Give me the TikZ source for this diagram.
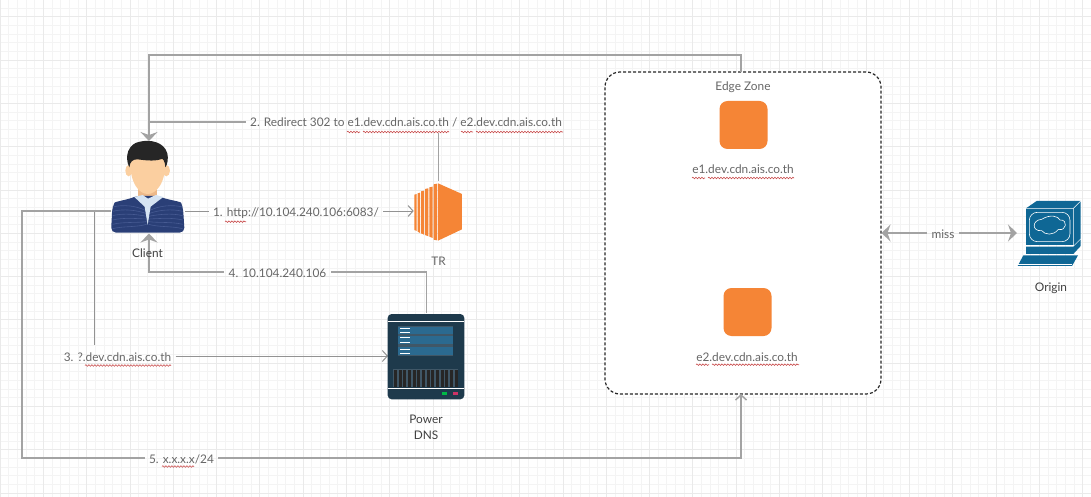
\documentclass[tikz,border=0pt]{standalone}
\usepackage{fontspec}
\setmainfont{Lato}
\usetikzlibrary{arrows.meta,decorations.pathmorphing}
\definecolor{gridminor}{HTML}{F4F4F4}
\definecolor{gridmajor}{HTML}{EAEAEA}
\definecolor{wiregray}{HTML}{A3A3A3}
\definecolor{textgray}{HTML}{666666}
\definecolor{iconorange}{HTML}{F58536}
\definecolor{dnsdark}{HTML}{1E3A4C}
\definecolor{dnsblue}{HTML}{2B6A90}
\definecolor{pcblue}{HTML}{0F6795}
\definecolor{suitblue}{HTML}{2A3F77}
\definecolor{suitline}{HTML}{465A92}
\definecolor{shirtblue}{HTML}{D6E4F3}
\definecolor{skin}{HTML}{FBCFA0}
\definecolor{skindark}{HTML}{EDB98A}
\tikzset{
  iconbox/.style={minimum width=#1,inner sep=0pt,outer sep=0pt},
  wire/.style={draw=wiregray,line width=1.5pt},
  wirethin/.style={draw=wiregray!90!black,line width=1pt},
  solidtip/.tip={Stealth[length=9pt,width=17pt,inset=3pt]},
  opentip/.tip={Straight Barb[length=5pt,width=11pt]},
  lbl/.style={font=\fontsize{11.85}{14}\selectfont,text=textgray,text height=12pt,text depth=2pt,inner xsep=4.5pt,inner ysep=4pt,outer sep=0pt},
  caption/.style={font=\fontsize{11.85}{16}\selectfont,text=black!75,align=center,inner sep=0pt},
  squig/.style={draw=red!70!black!70,line width=0.6pt,decorate,decoration={snake,amplitude=0.8pt,segment length=3pt}},
  tile/.style={fill=iconorange,draw=none,rounded corners=8pt}
}
\begin{document}
\begin{tikzpicture}[x=1pt,y=-1pt]
  \useasboundingbox (0,0) rectangle (1091,497);
  \foreach \i in {0,...,126}{\draw[gridminor,line width=0.7pt] ({8.66*\i},0) -- ({8.66*\i},497);} % vertical grid
  \foreach \i in {0,...,57}{\draw[gridminor,line width=0.7pt] (0,{8.66*\i-0.6}) -- (1091,{8.66*\i-0.6});} % horizontal grid
  \foreach \i in {0,...,25}{\draw[gridmajor,line width=0.8pt] ({43.3*\i},0) -- ({43.3*\i},497);} % heavy vertical grid
  \foreach \i in {0,...,11}{\draw[gridmajor,line width=0.8pt] (0,{43.3*\i+16.7}) -- (1091,{43.3*\i+16.7});} % heavy horizontal grid

  \node[iconbox=276pt,minimum height=322pt,fill=white,draw=black!85,line width=1.2pt,dash pattern=on 3pt off 2pt,rounded corners=15pt] (edge) at (743,233) {}; % edge zone
  \node[iconbox=74pt,minimum height=92pt] (client) at (148,187) {}; % client box
  \node[iconbox=50pt,minimum height=60pt] (tr) at (438.7,211) {}; % TR box
  \node[iconbox=77pt,minimum height=86pt] (dns) at (426.5,356) {}; % DNS box
  \node[iconbox=64pt,minimum height=66pt] (origin) at (1050,233) {}; % origin box
  \coordinate (edgein) at (741,72);
  \coordinate (edgeout) at (741,394);
  \coordinate (clienttop) at (149,141);
  \coordinate (clientbot) at (149,233.5);
  \coordinate (topturn) at (149,55);
  \coordinate (redirturn) at (149,122);
  \coordinate (dnsturn) at (94,356);
  \coordinate (xturn) at (22,458);
  \coordinate (missl) at (881.5,233);
  \coordinate (missr) at (1017,233);

  \node[lbl] (step1) at (296,211) {1. http://10.104.240.106:6083/};
  \node[lbl] (step2) at (406,122) {2. Redirect 302 to e1.dev.cdn.ais.co.th / e2.dev.cdn.ais.co.th};
  \node[lbl] (step3) at (117.5,356) {3. ?.dev.cdn.ais.co.th};
  \node[lbl] (step4) at (277.5,272) {4. 10.104.240.106};
  \node[lbl] (step5) at (181.5,458) {5. x.x.x.x/24};
  \node[lbl] (miss) at (943,233) {miss};

  \draw[wire,-solidtip] (edgein) |- (topturn) -- (clienttop); % top return
  \draw[wire] (tr.north) -- (tr.north |- step2.south); % step 2 riser
  \draw[wire] (step2.west) -- (redirturn); % step 2
  \draw[wirethin] (client.east |- tr.west) -- (step1.west); % step 1
  \draw[wirethin,-opentip] (step1.east) -- (tr.west); % step 1
  \draw[wirethin] (client.west |- tr.west) -| (dnsturn |- step3.north); % step 3
  \draw[wirethin,-opentip] (step3.east) -- (dns.west); % step 3
  \draw[wire] (dns.north) |- (step4.east); % step 4
  \draw[wire,-solidtip] (step4.west) -| (clientbot); % step 4
  \draw[wire] (client.west |- tr.west) -| (xturn) -- (step5.west); % step 5
  \draw[wire,-opentip] (step5.east) -| (edgeout); % step 5
  \draw[wire,solidtip-] (missl) -- (miss.west); % miss
  \draw[wire,-solidtip] (miss.east) -- (missr); % miss

  \draw[squig] (225,221.7) -- (246,221.7); % http
  \draw[squig] (347,132) -- (360,132);
  \draw[squig] (363,132) -- (449,132);
  \draw[squig] (461,132) -- (473,132);
  \draw[squig] (476,132) -- (563,132);
  \draw[squig] (85,365.5) -- (171,365.5);
  \draw[squig] (162,466.5) -- (194,466.5);
  \draw[squig] (692,178) -- (705,178);
  \draw[squig] (708,178) -- (794,178);
  \draw[squig] (696,364.7) -- (709,364.7);
  \draw[squig] (712,364.7) -- (799,364.7);

  \node[caption,text=textgray] (edgelbl) at (743,87) {Edge Zone};
  \node[tile,minimum width=48pt,minimum height=48pt,inner sep=0pt] (e1) at (743.5,125) {};
  \node[lbl] (e1lbl) at (743,169) {e1.dev.cdn.ais.co.th};
  \node[tile,minimum width=48pt,minimum height=48pt,inner sep=0pt] (e2) at (747.5,312) {};
  \node[lbl] (e2lbl) at (747,356) {e2.dev.cdn.ais.co.th};
  \node[caption] (clientlbl) at (147.5,253) {Client};
  \node[caption,text=textgray] (trlbl) at (438.5,261) {TR};
  \node[caption] (dnslbl) at (426,427) {Power\\DNS};
  \node[caption] (originlbl) at (1051,288) {Origin};

  \begin{scope}[shift={(0,100)},x=0.3333pt,y=-0.3333pt] % client figure
    \fill[skin] (386,212) ellipse (10 and 17); % left ear
    \fill[skin] (499,212) ellipse (11 and 17); % right ear
    \fill[skindark] (415,255) rectangle (470,300); % neck
    \fill[suitblue,rounded corners=5pt] (333,398) -- (337,322) .. controls (345,305) and (385,298) .. (408,288) -- (478,288) .. controls (500,298) and (542,305) .. (549,322) -- (554,398) -- cycle; % jacket
    \foreach \r in {1,...,6}{
      \draw[suitline,line width=0.6pt] (338,{308+\r*13}) .. controls (370,{300+\r*13}) and (410,{304+\r*13}) .. (440,{325+\r*8});
      \draw[suitline,line width=0.6pt] (548,{308+\r*13}) .. controls (516,{300+\r*13}) and (476,{304+\r*13}) .. (446,{325+\r*8});
    }
    \fill[shirtblue] (403,291) -- (428,285) -- (444,296) -- (468,285) -- (490,291) -- (452,320) -- (443,375) -- (434,320) -- cycle; % shirt
    \fill[skin] (390,180) .. controls (390,255) and (420,282) .. (443,282) .. controls (466,282) and (497,255) .. (497,180) .. controls (497,140) and (390,140) .. cycle; % face
    \fill[black!85] (388,202) .. controls (372,170) and (385,130) .. (420,125) .. controls (450,118) and (492,125) .. (502,160) .. controls (506,175) and (502,195) .. (496,202) .. controls (496,185) and (488,172) .. (482,178) .. controls (460,185) and (430,180) .. (412,178) .. controls (398,178) and (390,185) .. cycle; % hair
  \end{scope}

  \begin{scope}[shift={(370,170)},x=0.3333pt,y=-0.3333pt] % TR icon
    \fill[iconorange] (204,40) -- (276,72) -- (276,178) -- (204,212) -- cycle;
    \fill[iconorange] (191,43) -- (201,41) -- (201,211) -- (191,209) -- cycle;
    \fill[iconorange] (178,52) -- (188,50) -- (188,204) -- (178,200) -- cycle;
    \fill[iconorange] (165,57) -- (175,55) -- (175,199) -- (165,195) -- cycle;
    \fill[iconorange] (153,64) -- (162,62) -- (162,194) -- (153,190) -- cycle;
    \fill[iconorange] (143,70) -- (150,68) -- (150,189) -- (143,185) -- cycle;
    \fill[iconorange] (133,74) -- (140,72) -- (140,183) -- (133,180) -- cycle;
  \end{scope}

  \begin{scope}[shift={(370,300)},x=0.3333pt,y=-0.3333pt] % DNS icon
    \fill[dnsdark,rounded corners=4pt] (53,42) rectangle (283,298);
    \fill[white] (53,62) rectangle (283,65);
    \fill[white] (53,264) rectangle (283,267);
    \fill[dnsdark!85!white] (85,78) rectangle (250,168);
    \fill[dnsblue] (85,80) rectangle (250,101);
    \fill[dnsblue] (85,108) rectangle (250,131);
    \fill[dnsblue] (85,142) rectangle (250,165);
    \foreach \ypos in {85,97,112,125,148,160}{\fill[white] (90,\ypos) rectangle (120,\ypos+3);}
    \fill[dnsdark!85!white] (70,208) rectangle (265,262);
    \foreach \i in {0,...,13}{\fill[black!85] ({72+14*\i},210) rectangle ({81+14*\i},262);}
    \fill[green!45!teal] (216,276) rectangle (231,284);
    \fill[purple!80!white] (248,276) rectangle (264,284);
  \end{scope}

  \begin{scope}[shift={(1000,190)},x=0.3333pt,y=-0.3333pt] % origin icon
    \fill[pcblue] (78,55) -- (110,33) -- (242,33) -- (242,145) -- (222,165) -- (78,165) -- cycle;
    \draw[white,line width=0.5pt] (78,55) -- (220,55) -- (242,33) (220,55) -- (220,165);
    \draw[white,line width=0.6pt,rounded corners=8pt] (88,67) rectangle (210,155);
    \draw[white,line width=0.6pt] (125,88) .. controls (150,72) and (175,78) .. (180,90) .. controls (205,88) and (200,125) .. (175,118) .. controls (160,138) and (135,135) .. (125,122) .. controls (95,125) and (95,90) .. cycle;
    \fill[pcblue] (78,170) -- (220,170) -- (242,148) -- (242,168) -- (220,192) -- (78,192) -- cycle;
    \fill[pcblue] (70,196) -- (222,196) -- (234,196) -- (216,228) -- (53,228) -- cycle;
    \draw[white,line width=0.4pt] (53,222) -- (216,222);
  \end{scope}
\end{tikzpicture}
\end{document}
